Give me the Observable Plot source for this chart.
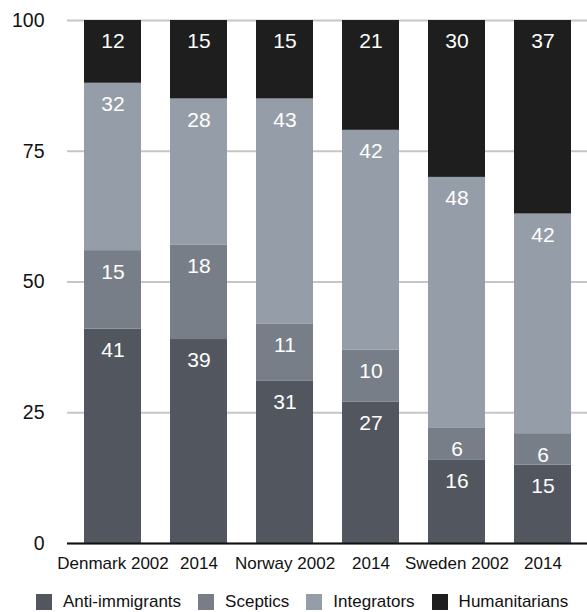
<!DOCTYPE html>
<html>
<head>
<meta charset="utf-8">
<script src="https://cdn.jsdelivr.net/npm/d3@7"></script>
<script src="https://cdn.jsdelivr.net/npm/@observablehq/plot@0.6"></script>
<style>
  body { margin: 0; background: #fff; overflow: hidden; width: 587px; }
  #chart { width: 587px; }
</style>
</head>
<body>
<div id="chart"></div>
<script>
// Survey waves shown along the x axis
const surveys = ["Denmark 2002", "Denmark 2014", "Norway 2002", "Norway 2014", "Sweden 2002", "Sweden 2014"];
const tickLabels = ["Denmark 2002", "2014", "Norway 2002", "2014", "Sweden 2002", "2014"];

// Attitude groups, bottom to top of each stack
const groups = ["Anti-immigrants", "Sceptics", "Integrators", "Humanitarians"];
const antiImmigrants = [41, 39, 31, 27, 16, 15];
const sceptics = [15, 18, 11, 10, 6, 6];
const integrators = [32, 28, 43, 42, 48, 42];
const humanitarians = [12, 15, 15, 21, 30, 37];

const yTicks = [0, 25, 50, 75, 100];
const colors = ["#52565e", "#787e87", "#959ea8", "#1e1e1e"];

const series = [antiImmigrants, sceptics, integrators, humanitarians];
const rows = groups.flatMap((g, gi) =>
  surveys.map((s, si) => ({survey: s, group: g, value: series[gi][si]}))
);

const font = "'Liberation Sans', Arial, Helvetica, sans-serif";

const chart = Plot.plot({
  width: 587,
  height: 585,
  marginTop: 20,
  marginRight: 0,
  marginBottom: 42,
  marginLeft: 67,
  style: {fontFamily: font, color: "#111", background: "#fff", overflow: "visible"},
  x: {domain: surveys, paddingInner: 0.342, paddingOuter: 0.17},
  y: {domain: [0, 100]},
  color: {domain: groups, range: colors},
  marks: [
    Plot.gridY(yTicks, {stroke: "#c6c6c6", strokeOpacity: 1, strokeWidth: 2}),
    Plot.barY(rows, {x: "survey", y: "value", fill: "group"}),
    Plot.text(rows, Plot.stackY2({
      x: "survey",
      y: "value",
      z: "group",
      text: d => String(d.value),
      fill: "white",
      fontSize: 21,
      lineAnchor: "top",
      dy: 13
    })),
    Plot.ruleY([0], {stroke: "#111", strokeWidth: 2}),
    Plot.axisY(yTicks, {tickSize: 0, tickPadding: 23, fontSize: 19.5, label: null, fill: "#111"}),
    Plot.axisX({
      tickSize: 0,
      tickPadding: 13,
      fontSize: 17,
      label: null,
      fill: "#111",
      tickFormat: d => tickLabels[surveys.indexOf(d)]
    })
  ]
});

// Swatch legend under the chart, kept on a single line
const legend = Plot.legend({color: {domain: groups, range: colors}, swatchSize: 16});
legend.style.fontFamily = font;
legend.style.fontSize = "17px";
legend.style.color = "#111";
legend.style.margin = "0";
legend.style.paddingLeft = "36px";
legend.style.minHeight = "33px";
legend.style.height = "33px";
legend.style.display = "flex";
legend.style.alignItems = "center";
legend.style.flexWrap = "nowrap";
legend.style.whiteSpace = "nowrap";
legend.querySelectorAll(":scope > span").forEach(item => {
  item.style.marginRight = "17px";
  item.style.flexShrink = "0";
  const sw = item.querySelector("svg");
  if (sw) sw.style.marginRight = "11px";
});

const root = document.getElementById("chart");
root.appendChild(chart);
root.appendChild(legend);
</script>
</body>
</html>
